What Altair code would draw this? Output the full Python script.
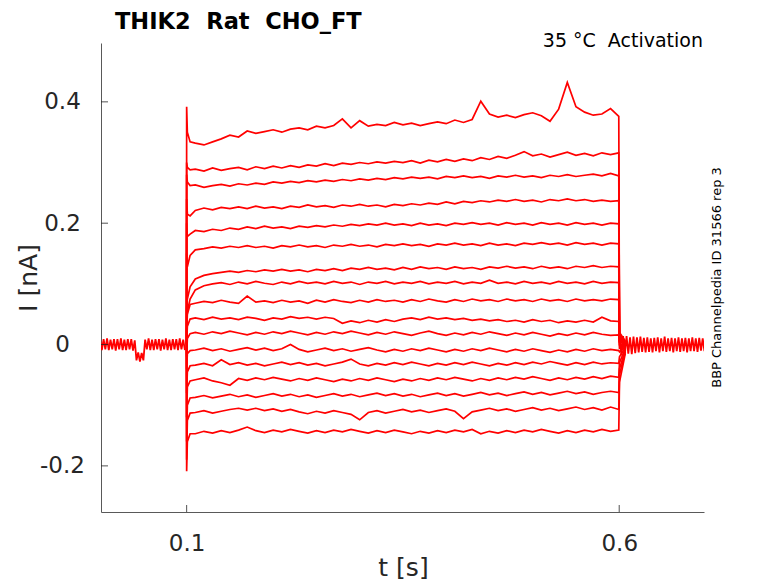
import pandas as pd
import altair as alt

FONT = "DejaVu Sans"
RED = "#ff0000"
INK = "#262626"

TITLE = "THIK2\u00a0\u00a0Rat\u00a0\u00a0CHO_FT"
CONDITION = "35 °C\u00a0\u00a0Activation"
SOURCE = "BBP Channelpedia ID 31566 rep 3"

X_TICKS = [0.1, 0.6]
Y_TICKS = [-0.2, 0.0, 0.2, 0.4]

# sample times of the voltage step (s): holding, onset, steady part, offset
STEP_T = ([0.0999, 0.1, 0.1008, 0.104]
          + [round(0.11 + 0.01 * i, 2) for i in range(49)]
          + [0.5995, 0.6003, 0.607])

# current of each sweep in pA (top sweep first)
sweep_01 = [0, 392, 350, 334,
            332, 329, 334, 339, 345, 342, 352, 348, 351, 354,
            350, 355, 357, 354, 360, 357, 361, 372, 357, 369,
            360, 363, 361, 366, 362, 365, 361, 364, 367, 364,
            370, 366, 371, 401, 380, 375, 378, 374, 379, 382,
            377, 368, 388, 432, 392, 383, 378, 380, 389,
            376, 20, 6]
sweep_02 = [0, 300, 292, 288,
            289, 286, 291, 287, 290, 292, 288, 293, 290, 294,
            291, 295, 292, 296, 294, 298, 295, 299, 297, 300,
            298, 301, 299, 302, 300, 303, 299, 304, 301, 305,
            302, 306, 303, 308, 305, 310, 307, 312, 318, 311,
            314, 309, 313, 317, 312, 315, 311, 316, 313,
            316, 16, 5]
sweep_03 = [0, 280, 268, 262,
            263, 259, 262, 264, 261, 265, 263, 266, 264, 268,
            266, 269, 267, 270, 268, 271, 269, 272, 270, 273,
            271, 274, 272, 275, 273, 276, 274, 276, 273, 277,
            275, 278, 275, 277, 274, 278, 276, 279, 276, 278,
            275, 279, 277, 280, 277, 279, 281, 278, 282,
            278, 14, 4]
sweep_04 = [0, 240, 215, 212,
            221, 225, 222, 226, 224, 227, 224, 228, 225, 227,
            224, 228, 226, 230, 227, 229, 226, 230, 228, 231,
            228, 230, 227, 231, 229, 232, 230, 233, 231, 235,
            232, 236, 234, 237, 235, 238, 236, 239, 236, 238,
            235, 239, 237, 240, 237, 239, 236, 238, 236,
            237, 12, 4]
sweep_05 = [0, 200, 178, 182,
            188, 186, 190, 188, 192, 190, 194, 191, 195, 192,
            194, 191, 195, 193, 196, 194, 197, 195, 198, 196,
            199, 197, 200, 197, 199, 196, 200, 197, 199, 196,
            200, 198, 201, 198, 200, 197, 201, 198, 200, 197,
            201, 198, 200, 197, 201, 198, 200, 197, 200,
            199, 10, 3]
sweep_06 = [0, 150, 128, 147,
            156, 158, 161, 159, 162, 160, 163, 160, 162, 159,
            163, 161, 164, 161, 163, 160, 164, 162, 165, 162,
            164, 161, 165, 163, 166, 163, 165, 162, 166, 164,
            167, 164, 166, 163, 167, 164, 166, 163, 167, 165,
            168, 165, 167, 164, 168, 165, 167, 164, 167,
            166, 8, 3]
sweep_07 = [0, 60, 75, 95,
            108, 114, 117, 119, 121, 119, 122, 120, 123, 121,
            124, 121, 123, 120, 124, 122, 125, 122, 126, 124,
            127, 124, 126, 123, 127, 124, 128, 125, 127, 124,
            128, 125, 127, 124, 128, 126, 129, 126, 128, 125,
            129, 126, 128, 125, 129, 127, 130, 127, 129,
            128, 6, 2]
sweep_08 = [0, 30, 55, 75,
            90, 97, 100, 102, 99, 103, 100, 104, 101, 99,
            103, 100, 104, 101, 103, 100, 104, 101, 103, 99,
            103, 101, 104, 100, 103, 101, 104, 100, 103, 101,
            104, 100, 103, 101, 106, 101, 103, 100, 104, 101,
            103, 100, 104, 101, 103, 100, 104, 101, 103,
            102, 5, 2]
sweep_09 = [0, 20, 50, 66,
            68, 71, 69, 73, 70, 68, 80, 70, 72, 69,
            73, 70, 72, 68, 73, 70, 74, 71, 69, 73,
            70, 74, 71, 73, 70, 74, 71, 75, 72, 70,
            74, 71, 75, 72, 74, 71, 75, 72, 74, 71,
            75, 72, 74, 71, 75, 72, 74, 72, 75,
            74, 4, 1]
sweep_10 = [0, 0, 30, 42,
            44, 41, 45, 42, 44, 41, 45, 43, 40, 44,
            42, 46, 43, 45, 42, 45, 43, 35, 39, 36,
            40, 37, 41, 38, 42, 44, 41, 45, 42, 44,
            41, 43, 40, 42, 39, 41, 38, 40, 37, 41,
            38, 40, 36, 39, 37, 40, 37, 45, 39,
            38, 0, 0]
sweep_11 = [0, -20, 10, 18,
            20, 17, 21, 18, 22, 19, 16, 20, 17, 21,
            18, 22, 19, 16, 20, 17, 21, 18, 22, 19,
            16, 20, 17, 21, 18, 15, 19, 22, 18, 15,
            19, 16, 20, 17, 21, 18, 15, 19, 16, 20,
            17, 14, 18, 15, 19, 16, 20, 17, 15,
            16, -6, -2]
sweep_12 = [0, -40, -15, -10,
            -9, -6, -10, -7, -11, -8, -5, -9, -6, -10,
            -7, 0, -8, -12, -9, -6, -10, -7, -11, -8,
            -5, -9, -12, -8, -11, -7, -10, -6, -9, -12,
            -8, -11, -7, -10, -6, -9, -12, -8, -11, -7,
            -10, -13, -9, -12, -8, -11, -7, -10, -8,
            -10, -12, -3]
sweep_13 = [0, -80, -45, -35,
            -34, -31, -35, -25, -33, -30, -34, -31, -35, -32,
            -29, -33, -30, -34, -31, -35, -32, -29, -24, -32,
            -35, -31, -34, -30, -33, -29, -32, -35, -31, -34,
            -30, -33, -29, -32, -35, -31, -34, -30, -33, -29,
            -32, -28, -31, -34, -30, -33, -29, -32, -30,
            -31, -20, -5]
sweep_14 = [0, -120, -70, -60,
            -58, -55, -60, -63, -67, -56, -59, -55, -58, -54,
            -57, -60, -56, -59, -55, -58, -61, -57, -60, -56,
            -59, -55, -58, -61, -57, -60, -56, -59, -55, -58,
            -54, -57, -60, -56, -59, -55, -58, -54, -57, -53,
            -56, -59, -55, -58, -54, -57, -53, -56, -52,
            -54, -30, -7]
sweep_15 = [0, -160, -100, -88,
            -87, -84, -88, -85, -82, -86, -83, -87, -84, -81,
            -85, -82, -86, -83, -87, -84, -81, -85, -82, -86,
            -83, -80, -84, -81, -85, -82, -86, -83, -80, -84,
            -81, -85, -82, -79, -83, -80, -84, -81, -78, -82,
            -79, -83, -80, -77, -81, -78, -82, -79, -77,
            -79, -40, -9]
sweep_16 = [0, -190, -125, -113,
            -112, -109, -113, -110, -107, -105, -108, -105, -109, -106,
            -110, -107, -111, -114, -110, -113, -109, -112, -115, -124,
            -112, -109, -113, -110, -107, -111, -108, -112, -109, -106,
            -110, -122, -111, -108, -105, -109, -106, -110, -107, -104,
            -108, -105, -109, -106, -103, -107, -104, -108, -103,
            -107, -50, -12]
sweep_17 = [0, -209, -160, -147,
            -147, -143, -146, -142, -145, -141, -136, -142, -145, -141,
            -144, -140, -143, -146, -142, -145, -141, -144, -140, -143,
            -146, -142, -145, -141, -144, -147, -143, -146, -142, -145,
            -141, -144, -140, -147, -143, -146, -142, -145, -141, -144,
            -140, -143, -146, -142, -145, -141, -144, -140, -143,
            -141, -62, -15]

SWEEPS = [sweep_01, sweep_02, sweep_03, sweep_04, sweep_05, sweep_06,
          sweep_07, sweep_08, sweep_09, sweep_10, sweep_11, sweep_12,
          sweep_13, sweep_14, sweep_15, sweep_16, sweep_17]

# holding current before the step (pA), sampled every 2 ms
BASE_T = [round(0.002 * i, 3) for i in range(50)]
BASE_I = [8, -9, 9, -8, 10, -9, 8, -8, 9, -10,
          9, -8, 10, -9, 8, -9, 9, -8, 9, -10,
          7, -26, -13, -28, -14, -26, 8, -8, 10, -9,
          8, -9, 9, -8, 9, -10, 8, -8, 10, -9,
          8, -9, 9, -8, 9, -9, 10, -8, 8, -9]

# tail current after the step (pA), sampled every 2 ms
TAIL_T = [round(0.6005 + 0.002 * i, 4) for i in range(50)]
TAIL_I = [15, -18, 14, -16, 14, -15, 12, -16, 13, -14,
          12, -13, 13, -12, 11, -13, 12, -12, 10, -13,
          11, -11, 12, -13, 10, -11, 13, -12, 10, -11,
          11, -13, 10, -11, 12, -12, 10, -11, 11, -13,
          10, -11, 12, -11, 10, -12, 11, -10, 10, -11]


rows = []
for n, vals in enumerate(SWEEPS, start=1):
    for t, v in zip(STEP_T, vals):
        rows.append({'t': t, 'I': v / 1000, 'sweep': n})
steps = pd.DataFrame(rows)
base = pd.DataFrame({'t': BASE_T, 'I': [v / 1000 for v in BASE_I]})
tail = pd.DataFrame({'t': TAIL_T, 'I': [v / 1000 for v in TAIL_I]})

x_scale = alt.Scale(domain=[0.001, 0.698], nice=False, zero=False)
y_scale = alt.Scale(domain=[-0.276, 0.497], nice=False, zero=False)

y_labels = ("datum.value == 0 ? '0' : (datum.value < 0 ? '-' + format(-datum.value, '.1f')"
            " : format(datum.value, '.1f'))")

x_axis = alt.Axis(values=X_TICKS, format='.1f', title='t [s]', labelPadding=20,
                  titleX=302, titleY=55, titleBaseline='middle', titleAlign='center')
y_axis = alt.Axis(values=Y_TICKS, labelExpr=y_labels, title='I [nA]',
                  labelAlign='center', labelBaseline='middle', labelPadding=39,
                  titleX=-73, titleY=234.5, titleBaseline='middle', titleAlign='center')


def trace(df, width):
    return alt.Chart(df).mark_line(color=RED, strokeWidth=width, clip=True).encode(
        x=alt.X('t:Q', scale=x_scale, axis=x_axis),
        y=alt.Y('I:Q', scale=y_scale, axis=y_axis)
    )


sweeps = trace(steps, 1.7).encode(detail='sweep:N')
holding = trace(base, 1.8)
after = trace(tail, 1.8)

# MATLAB style ticks, pointing into the axes
y_ticks = alt.Chart(pd.DataFrame({'v': Y_TICKS})).mark_rule(color=INK, strokeWidth=0.8).encode(
    y=alt.Y('v:Q', scale=y_scale, axis=y_axis), x=alt.value(0), x2=alt.value(7)
)
x_ticks = alt.Chart(pd.DataFrame({'v': X_TICKS})).mark_rule(color=INK, strokeWidth=0.8).encode(
    x=alt.X('v:Q', scale=x_scale, axis=x_axis), y=alt.value(469), y2=alt.value(462)
)

title = alt.Chart(pd.DataFrame({'label': [TITLE]})).mark_text(
    align='left', baseline='alphabetic', font=FONT, fontSize=22.5, fontWeight='bold', color='black'
).encode(x=alt.value(14), y=alt.value(-14), text='label:N')

condition = alt.Chart(pd.DataFrame({'label': [CONDITION]})).mark_text(
    align='right', baseline='alphabetic', font=FONT, fontSize=19, color='black'
).encode(x=alt.value(602), y=alt.value(4), text='label:N')

source = alt.Chart(pd.DataFrame({'label': [SOURCE]})).mark_text(
    angle=270, align='center', baseline='middle', font=FONT, fontSize=13, color='black'
).encode(x=alt.value(616), y=alt.value(234.5), text='label:N')

chart = alt.layer(
    sweeps, holding, after, y_ticks, x_ticks, title, condition, source
).properties(
    width=603,
    height=469,
    autosize=alt.AutoSizeParams(type='none'),
    padding={'left': 93, 'top': 35, 'right': 66, 'bottom': 71}
).configure_view(
    stroke='transparent'
).configure_axis(
    grid=False, ticks=False, tickSize=0,
    domainColor='#595959', domainWidth=1,
    labelFont=FONT, labelFontSize=23, labelColor=INK,
    titleFont=FONT, titleFontSize=25, titleFontWeight='normal', titleColor=INK
)

chart.save("out.html", embed_options={"renderer": "svg", "actions": False})
